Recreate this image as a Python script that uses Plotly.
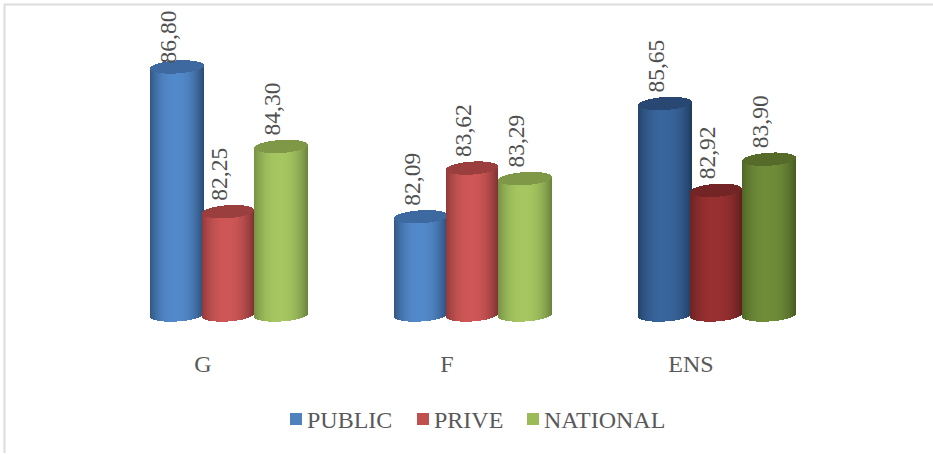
import numpy as np
import plotly.graph_objects as go

categories = ["G", "F", "ENS"]
series_names = ["PUBLIC", "PRIVE", "NATIONAL"]
public = [86.80, 82.09, 85.65]
prive = [82.25, 83.62, 82.92]
national = [84.30, 83.29, 83.90]
series_values = [public, prive, national]

W, H = 933, 454
PX_X = 1 / 244          # category units per pixel
PX_Y = 1 / 31.8         # value units per pixel
BASE = 79.0
PLOT_BOTTOM = 330
BASE_PIX = 315
OFFSETS = [-26, 25, 78]
HALF = [27, 26, 27]
CAP_B = 6.5
TILT = 1.6
TXT = "#595959"
FONT = "Liberation Serif"

# (middle, edge, cap) colours
NORMAL = [((82, 137, 202), (42, 72, 112), (62, 105, 160)),
          ((206, 86, 86), (125, 50, 50), (155, 62, 62)),
          ((165, 198, 96), (105, 130, 60), (126, 152, 72))]
DARK = [((56, 101, 156), (30, 58, 92), (40, 72, 115)),
        ((152, 48, 48), (95, 30, 30), (115, 36, 36)),
        ((111, 141, 56), (70, 90, 35), (86, 106, 41))]
PALETTES = [NORMAL, NORMAL, DARK]
LEGEND_COLORS = ["#4F81BD", "#C0504D", "#9BBB59"]
LEGEND_LEFT = [276, 403, 513]      # native entry (text) positions
SWATCH_LEFT = [290, 417, 527]      # swatch squares sit closer to the text


def rgb(c):
    return "rgb(%d,%d,%d)" % tuple(int(round(v)) for v in c)


def shade(mid, edge, t):
    k = min(1.0, abs(t + 0.05) / 1.05) ** 2.4
    return rgb([m + (e - m) * k for m, e in zip(mid, edge)])


fig = go.Figure()
annotations = []
for s, vals in enumerate(series_values):
    for c, v in enumerate(vals):
        mid, edge, cap = PALETTES[c][s]
        hw = HALF[s]
        xc = c + OFFSETS[s] * PX_X
        ts = (np.arange(2 * hw) + 0.5 - hw) / hw
        xs = xc + ts * hw * PX_X
        curve = np.sqrt(1 - ts ** 2) * CAP_B * PX_Y
        lean = ts * TILT * PX_Y
        body_base = BASE + lean - curve
        body_top = v + lean
        fig.add_bar(x=xs, y=body_top - body_base, base=body_base,
                    width=PX_X, showlegend=False, hoverinfo="skip",
                    marker=dict(color=[shade(mid, edge, t) for t in ts], line_width=0))
        fig.add_bar(x=xs, y=2 * curve, base=v + lean - curve,
                    width=PX_X, showlegend=False, hoverinfo="skip",
                    marker=dict(color=rgb(cap), line_width=0))
        txt = f"{v:.2f}".replace(".", ",")
        annotations.append(dict(x=xc, y=v, xref="x", yref="y", text=txt, textangle=-90,
                                showarrow=False, xanchor="center", yanchor="bottom",
                                xshift=-9, yshift=1 if v > 86.5 else CAP_B + 2,
                                font=dict(family=FONT, size=23.5, color="#505050")))

shapes = [
    dict(type="line", xref="paper", yref="paper", x0=4 / W, x1=1,
         y0=(PLOT_BOTTOM - 4.5) / PLOT_BOTTOM, y1=(PLOT_BOTTOM - 4.5) / PLOT_BOTTOM,
         line=dict(color="#dcdcdc", width=2)),
    dict(type="line", xref="paper", yref="paper", x0=4.5 / W, x1=4.5 / W,
         y0=(PLOT_BOTTOM - 4) / PLOT_BOTTOM, y1=(PLOT_BOTTOM - 453) / PLOT_BOTTOM,
         line=dict(color="#dcdcdc", width=2)),
]

legend_layouts = {}
for i, (name, col, left, sw) in enumerate(zip(series_names, LEGEND_COLORS, LEGEND_LEFT, SWATCH_LEFT)):
    key = "legend" if i == 0 else f"legend{i + 1}"
    fig.add_bar(x=[None], y=[None], name=name, legend=key, showlegend=True,
                marker=dict(color="rgba(0,0,0,0)", line_width=0))
    legend_layouts[key] = dict(orientation="h", x=left / W, xanchor="left",
                               y=(PLOT_BOTTOM - 419) / PLOT_BOTTOM, yanchor="middle",
                               indentation=-9,
                               font=dict(family=FONT, size=24, color=TXT),
                               bgcolor="rgba(0,0,0,0)",
                               itemclick=False, itemdoubleclick=False)
    shapes.append(dict(type="rect", xref="paper", yref="paper",
                       x0=sw / W, x1=(sw + 12) / W,
                       y0=(PLOT_BOTTOM - 425) / PLOT_BOTTOM, y1=(PLOT_BOTTOM - 413) / PLOT_BOTTOM,
                       fillcolor=col, line_width=0))

fig.update_layout(
    width=W, height=H, autosize=False,
    margin=dict(l=0, r=0, t=0, b=H - PLOT_BOTTOM, pad=0),
    paper_bgcolor="white", plot_bgcolor="white",
    barmode="overlay", bargap=0,
    xaxis=dict(range=[-203 * PX_X, (W - 203) * PX_X], tickmode="array",
               tickvals=list(range(len(categories))), ticktext=categories,
               ticks="outside", ticklen=12, tickcolor="rgba(0,0,0,0)",
               showgrid=False, zeroline=False, showline=False,
               tickfont=dict(family=FONT, size=24, color=TXT)),
    yaxis=dict(range=[BASE - (PLOT_BOTTOM - BASE_PIX) * PX_Y, BASE + BASE_PIX * PX_Y],
               visible=False),
    annotations=annotations, shapes=shapes,
    **legend_layouts,
)
fig.write_html("out.html", config={"displayModeBar": False},
               post_script="document.body.style.margin='0';document.documentElement.style.overflow='hidden';")
